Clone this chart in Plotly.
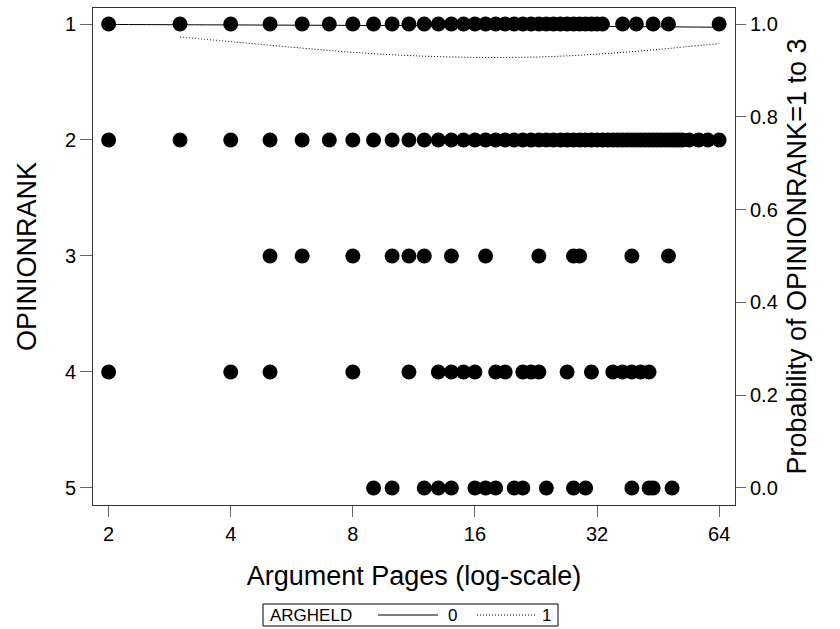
import plotly.graph_objects as go
import math

# ---- data (argument pages by OPINIONRANK) ----
rank1_pages = [2, 3, 4, 5, 6, 7, 8, 9, 10, 11, 12, 13, 14, 15, 16, 17, 18, 19, 20,
               21, 22, 23, 24, 25, 26, 27, 28, 29, 30, 31, 32, 33, 37, 40, 44, 48, 64]
rank2_pages = [2, 3, 4, 5, 6, 7, 8, 9, 10, 11, 12, 13, 14, 15, 16, 17, 18, 19, 20,
               21, 22, 23, 24, 25, 26, 27, 28, 29, 30, 31, 32, 33, 34, 35, 36, 37, 38,
               39, 40, 41, 42, 43, 44, 45, 46, 47, 48, 49, 50, 51, 52, 54, 57, 60, 64]
rank3_pages = [5, 6, 8, 10, 11, 12, 14, 17, 23, 28, 29, 39, 48]
rank4_pages = [2, 4, 5, 8, 11, 13, 14, 15, 16, 18, 19, 21, 22, 23, 27, 31, 35, 37, 39, 41, 43]
rank5_pages = [9, 10, 12, 13, 14, 16, 17, 18, 20, 21, 24, 28, 30, 39, 43, 44, 49]

# predicted probability of OPINIONRANK = 1 to 3, by ARGHELD
curve0_pages = [2, 4, 8, 16, 32, 64]
curve0_prob = [0.999, 0.998, 0.997, 0.996, 0.995, 0.993]
curve1_pages = [3, 4, 6, 8, 11, 16, 23, 32, 45, 64]
curve1_prob = [0.972, 0.962, 0.948, 0.939, 0.932, 0.928, 0.929, 0.935, 0.945, 0.958]

x_ticks = [2, 4, 8, 16, 32, 64]
y_ticks = [1, 2, 3, 4, 5]
y2_ticks = [0.0, 0.2, 0.4, 0.6, 0.8, 1.0]
legend_title = "ARGHELD"
legend_labels = ["0", "1"]

W, H = 840, 629
ML, MR, MT, MB = 93, 105, 8, 124
PW, PH = W - ML - MR, H - MT - MB

FONT = "Liberation Sans, Arial, sans-serif"
DOTS = "1px,2px"

fig = go.Figure()

rows = [(1, rank1_pages), (2, rank2_pages), (3, rank3_pages), (4, rank4_pages), (5, rank5_pages)]
for r, pages in rows:
    fig.add_trace(go.Scatter(
        x=pages, y=[r] * len(pages), mode="markers",
        marker=dict(color="black", size=15, line=dict(width=0)),
        showlegend=False))

fig.add_trace(go.Scatter(
    x=curve0_pages, y=curve0_prob, mode="lines", name=legend_labels[0], yaxis="y2",
    line=dict(color="black", width=1, shape="spline"), showlegend=False))
fig.add_trace(go.Scatter(
    x=curve1_pages, y=curve1_prob, mode="lines", name=legend_labels[1], yaxis="y2",
    line=dict(color="black", width=1, dash=DOTS, shape="spline"), showlegend=False))


def px_x(p):
    return (p - ML) / PW


def px_y(p):
    return (H - MB - p) / PH


# manual legend box (paper coordinates derived from pixel layout)
ly0, ly1 = 604, 626
lmid = (ly0 + ly1) / 2
shapes = [
    dict(type="rect", xref="paper", yref="paper", x0=px_x(263), x1=px_x(558),
         y0=px_y(ly1), y1=px_y(ly0), line=dict(color="black", width=1), fillcolor="white"),
    dict(type="line", xref="paper", yref="paper", x0=px_x(378), x1=px_x(438),
         y0=px_y(lmid), y1=px_y(lmid), line=dict(color="black", width=1)),
    dict(type="line", xref="paper", yref="paper", x0=px_x(477), x1=px_x(537),
         y0=px_y(lmid), y1=px_y(lmid), line=dict(color="black", width=1, dash=DOTS)),
]
lfont = dict(family=FONT, size=17, color="black")
annotations = [
    dict(text=legend_title, xref="paper", yref="paper", x=px_x(268), y=px_y(lmid),
         xanchor="left", yanchor="middle", showarrow=False, font=lfont),
    dict(text=legend_labels[0], xref="paper", yref="paper", x=px_x(453), y=px_y(lmid),
         xanchor="center", yanchor="middle", showarrow=False, font=lfont),
    dict(text=legend_labels[1], xref="paper", yref="paper", x=px_x(546), y=px_y(lmid),
         xanchor="center", yanchor="middle", showarrow=False, font=lfont),
]

tick_font = dict(family=FONT, size=20, color="black")
title_font = dict(family=FONT, size=27, color="black")

fig.update_layout(
    width=W, height=H,
    margin=dict(l=ML, r=MR, t=MT, b=MB, autoexpand=False),
    plot_bgcolor="white", paper_bgcolor="white",
    shapes=shapes, annotations=annotations,
    showlegend=False,
    xaxis=dict(
        type="log", range=[0.872 * math.log10(2), 6.13 * math.log10(2)],
        tickvals=x_ticks, ticktext=[str(v) for v in x_ticks],
        ticks="outside", ticklen=11, tickcolor="#666666", tickwidth=1,
        showgrid=False, zeroline=False,
        showline=True, linecolor="#333333", linewidth=1, mirror=True,
        tickfont=tick_font, automargin=False,
        title=dict(text="Argument Pages (log-scale)", font=title_font, standoff=22)),
    yaxis=dict(
        range=[5.147, 0.862], tickvals=y_ticks, ticktext=[str(v) for v in y_ticks],
        ticks="outside", ticklen=12, tickcolor="#666666", tickwidth=1,
        showgrid=False, zeroline=False,
        showline=True, linecolor="#333333", linewidth=1, mirror=True,
        tickfont=tick_font, automargin=False,
        title=dict(text="OPINIONRANK", font=title_font, standoff=20)),
    yaxis2=dict(
        overlaying="y", side="right",
        range=[-0.03675, 1.0345], tickvals=y2_ticks,
        ticktext=["%.1f" % v for v in y2_ticks],
        ticks="outside", ticklen=10, tickcolor="#666666", tickwidth=1,
        showgrid=False, zeroline=False, showline=False,
        tickfont=tick_font, automargin=False,
        title=dict(text="Probability of OPINIONRANK=1 to 3", font=title_font, standoff=10)),
)

fig.write_html("out.html")
